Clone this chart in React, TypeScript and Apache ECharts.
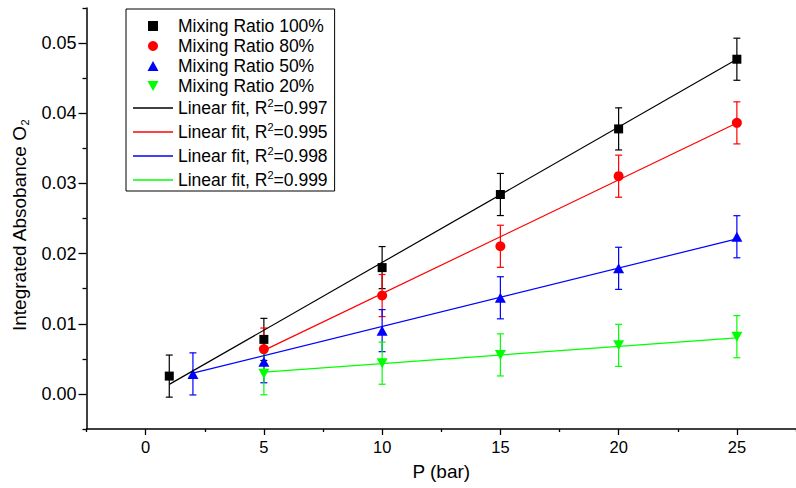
import React, { useEffect, useRef } from "react";
import * as echarts from "echarts";

// ---- data ----
const P_100 = [1, 5, 10, 15, 20, 25];
const V_100 = [0.00254, 0.00777, 0.0180, 0.02842, 0.03777, 0.0477];
const E_100 = [0.003, 0.003, 0.003, 0.003, 0.003, 0.003];

const P_80 = [5, 10, 15, 20, 25];
const V_80 = [0.00639, 0.01402, 0.02104, 0.03103, 0.03863];
const E_80 = [0.003, 0.003, 0.003, 0.003, 0.003];

const P_50 = [2, 5, 10, 15, 20, 25];
const V_50 = [0.00285, 0.00459, 0.00902, 0.0137, 0.0179, 0.0224];
const E_50 = [0.003, 0.003, 0.003, 0.003, 0.003, 0.003];

const P_20 = [5, 10, 15, 20, 25];
const V_20 = [0.00288, 0.00438, 0.00556, 0.00692, 0.00816];
const E_20 = [0.003, 0.003, 0.003, 0.003, 0.003];

// linear fit end points
const FIT_P_100 = [1, 25];
const FIT_V_100 = [0.00136, 0.0477];
const FIT_P_80 = [5, 25];
const FIT_V_80 = [0.0062, 0.0386];
const FIT_P_50 = [2, 25];
const FIT_V_50 = [0.00296, 0.0221];
const FIT_P_20 = [5, 25];
const FIT_V_20 = [0.0031, 0.0080];

const SCATTER_NAMES = [
  "Mixing Ratio 100%",
  "Mixing Ratio 80%",
  "Mixing Ratio 50%",
  "Mixing Ratio 20%",
];
const FIT_NAMES = [
  "Linear fit, R²=0.997",
  "Linear fit, R²=0.995",
  "Linear fit, R²=0.998",
  "Linear fit, R²=0.999",
];

const X_MAJOR = [0, 5, 10, 15, 20, 25];
const X_MINOR = [-2.5, 2.5, 7.5, 12.5, 17.5, 22.5, 27.5];
const Y_MAJOR = [0, 0.01, 0.02, 0.03, 0.04, 0.05];
const Y_MINOR = [-0.005, 0.005, 0.015, 0.025, 0.035, 0.045, 0.055];

const FONT = "'Liberation Sans', Arial, Helvetica, sans-serif";
const COLORS = ["#000000", "#ff0000", "#0000ff", "#00ff00"];
const LINE_ICON = "path://M0,0H40V1.3H0Z";
const SQUARE_ICON = "path://M0,0H9V9H0Z";
const TRI_UP_ICON = "path://M5.5,0L11,10L0,10Z";
const TRI_DOWN_ICON = "path://M0,0L11,0L5.5,10Z";
const LEGEND_SCATTER_ICONS = [SQUARE_ICON, "circle", TRI_UP_ICON, TRI_DOWN_ICON];

const zip2 = (a: number[], b: number[]) => a.map((v, i) => [v, b[i]]);
const zip3 = (a: number[], b: number[], c: number[]) =>
  a.map((v, i) => [v, b[i], c[i]]);

function errorBars(color: string, data: number[][]) {
  return {
    type: "custom",
    silent: true,
    xAxisIndex: 0,
    yAxisIndex: 0,
    encode: { x: 0, y: 1 },
    data,
    z: 3,
    renderItem: (_params: any, api: any) => {
      const x = api.value(0);
      const y = api.value(1);
      const e = api.value(2);
      const hi = api.coord([x, y + e]);
      const lo = api.coord([x, y - e]);
      const w = 3.5;
      const style = { stroke: color, lineWidth: 1.2 };
      return {
        type: "group",
        children: [
          { type: "line", shape: { x1: hi[0], y1: hi[1], x2: lo[0], y2: lo[1] }, style },
          { type: "line", shape: { x1: hi[0] - w, y1: hi[1], x2: hi[0] + w, y2: hi[1] }, style },
          { type: "line", shape: { x1: lo[0] - w, y1: lo[1], x2: lo[0] + w, y2: lo[1] }, style },
        ],
      };
    },
  };
}

function scatter(name: string, color: string, symbol: string, size: any, data: number[][]) {
  return {
    type: "scatter",
    name,
    data,
    symbol,
    symbolSize: size,
    itemStyle: { color, opacity: 1 },
    z: 4,
  };
}

function fit(name: string, color: string, data: number[][]) {
  return {
    type: "line",
    name,
    data,
    symbol: "none",
    showSymbol: false,
    lineStyle: { color, width: 1.2 },
    itemStyle: { color },
    z: 5,
  };
}

export default function App() {
  const ref = useRef<HTMLDivElement>(null);

  useEffect(() => {
    if (!ref.current) return;
    const chart = echarts.init(ref.current, undefined, { renderer: "svg" });

    const option: any = {
      animation: false,
      backgroundColor: "#ffffff",
      textStyle: { fontFamily: FONT },
      grid: { left: 86.5, top: 8, width: 716, height: 421, containLabel: false },
      legend: {
        orient: "vertical",
        left: 126,
        top: 9,
        padding: [8, 7, 0, 7],
        itemGap: 2,
        itemWidth: 40,
        itemHeight: 10,
        symbolKeepAspect: true,
        borderColor: "#000",
        borderWidth: 1,
        borderRadius: 0,
        selectedMode: false,
        data: [
          ...SCATTER_NAMES.map((n, i) => ({ name: n, icon: LEGEND_SCATTER_ICONS[i] })),
          ...FIT_NAMES.map((n) => ({ name: n, icon: LINE_ICON })),
        ],
        formatter: (name: string) =>
          name.indexOf("²") >= 0 ? name.replace("²", "{sup|2}") : name,
        textStyle: {
          fontFamily: FONT,
          fontSize: 17.5,
          lineHeight: 18,
          color: "#000",
          rich: {
            sup: { fontFamily: FONT, fontSize: 11, lineHeight: 22, verticalAlign: "top", color: "#000" },
          },
        },
      },
      xAxis: [
        {
          type: "value",
          min: -2.5,
          max: 27.5,
          position: "bottom",
          name: "P (bar)",
          nameLocation: "middle",
          nameGap: 33,
          nameTextStyle: { fontFamily: FONT, fontSize: 19, color: "#000" },
          axisLine: { show: true, onZero: false, lineStyle: { color: "#000", width: 1.5 } },
          axisTick: { show: true, customValues: X_MAJOR, length: 6, lineStyle: { color: "#000", width: 1.3 } },
          axisLabel: { customValues: X_MAJOR, color: "#000", fontSize: 16.5, fontFamily: FONT, margin: 9 },
          splitLine: { show: false },
        },
        {
          type: "value",
          min: -2.5,
          max: 27.5,
          position: "bottom",
          axisLine: { show: false, onZero: false },
          axisTick: { show: true, customValues: X_MINOR, length: 3, lineStyle: { color: "#000", width: 1.3 } },
          axisLabel: { show: false },
          splitLine: { show: false },
        },
      ],
      yAxis: [
        {
          type: "value",
          min: -0.005,
          max: 0.055,
          position: "left",
          name: "Integrated Absobance O{sub|2}",
          nameLocation: "middle",
          nameGap: 50,
          nameTextStyle: {
            fontFamily: FONT,
            fontSize: 19,
            lineHeight: 22,
            color: "#000",
            padding: [0, 14, 0, 0],
            rich: {
              sub: { fontFamily: FONT, fontSize: 11, lineHeight: 22, verticalAlign: "bottom", color: "#000" },
            },
          },
          axisLine: { show: true, onZero: false, lineStyle: { color: "#000", width: 1.5 } },
          axisTick: { show: true, customValues: Y_MAJOR, length: 8, lineStyle: { color: "#000", width: 1.3 } },
          axisLabel: {
            customValues: Y_MAJOR,
            color: "#000",
            fontSize: 18,
            fontFamily: FONT,
            margin: 10,
            formatter: (v: number) => v.toFixed(2),
          },
          splitLine: { show: false },
        },
        {
          type: "value",
          min: -0.005,
          max: 0.055,
          position: "left",
          axisLine: { show: false, onZero: false },
          axisTick: { show: true, customValues: Y_MINOR, length: 4, lineStyle: { color: "#000", width: 1.3 } },
          axisLabel: { show: false },
          splitLine: { show: false },
        },
      ],
      series: [
        errorBars(COLORS[0], zip3(P_100, V_100, E_100)),
        scatter(SCATTER_NAMES[0], COLORS[0], "rect", 9, zip2(P_100, V_100)),
        errorBars(COLORS[1], zip3(P_80, V_80, E_80)),
        scatter(SCATTER_NAMES[1], COLORS[1], "circle", 10, zip2(P_80, V_80)),
        errorBars(COLORS[2], zip3(P_50, V_50, E_50)),
        scatter(SCATTER_NAMES[2], COLORS[2], "triangle", [11, 10], zip2(P_50, V_50)),
        errorBars(COLORS[3], zip3(P_20, V_20, E_20)),
        scatter(SCATTER_NAMES[3], COLORS[3], "path://M0,0L10,0L5,9Z", [11, 10], zip2(P_20, V_20)),
        fit(FIT_NAMES[0], COLORS[0], zip2(FIT_P_100, FIT_V_100)),
        fit(FIT_NAMES[1], COLORS[1], zip2(FIT_P_80, FIT_V_80)),
        fit(FIT_NAMES[2], COLORS[2], zip2(FIT_P_50, FIT_V_50)),
        fit(FIT_NAMES[3], COLORS[3], zip2(FIT_P_20, FIT_V_20)),
      ],
    };

    chart.setOption(option);
    return () => chart.dispose();
  }, []);

  return (
    <div
      ref={ref}
      style={{ position: "absolute", left: 0, top: 0, width: 796, height: 488 }}
    />
  );
}
